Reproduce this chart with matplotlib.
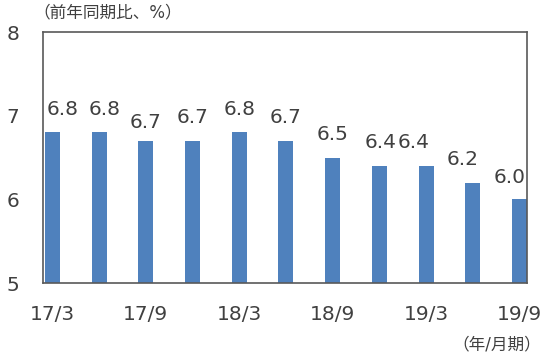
import matplotlib
matplotlib.use("Agg")
import matplotlib.pyplot as plt
from matplotlib.transforms import offset_copy

plt.rcParams['font.family'] = ['DejaVu Sans', 'Noto Sans CJK JP']

periods = ["17/3", "17/6", "17/9", "17/12", "18/3", "18/6", "18/9", "18/12", "19/3", "19/6", "19/9"]
values = [6.8, 6.8, 6.7, 6.7, 6.8, 6.7, 6.5, 6.4, 6.4, 6.2, 6.0]
tick_labels = ["17/3", "17/9", "18/3", "18/9", "19/3", "19/9"]
y_ticks = [5, 6, 7, 8]
y_label = "（前年同期比、%）"
x_unit = "（年/月期）"

# label nudges in pixels (dx, dy) to mimic the reference placement
label_dx = [10.5, 5.5, 0, 0, 0, 0, 0, 1.5, -12, -10.5, -10]
label_dy = [17, 17, 12.5, 17.5, 17, 17.5, 17.5, 18, 18, 18, 16]

text_color = "#404040"
bar_color = "#4F81BD"
spine_color = "#595959"

fig = plt.figure(figsize=(5.45, 3.57), dpi=100)
ax = fig.add_axes([43/545, 1 - 283/357, (527-43)/545, (283-32)/357])

x = list(range(len(values)))
ax.bar(x, values, width=0.32, color=bar_color, bottom=0, zorder=2)
ax.set_ylim(5, 8)
ax.set_xlim(-0.2, 10.16)
ax.set_yticks(y_ticks)
ax.set_yticklabels([str(v) for v in y_ticks])
ax.set_xticks(x[::2])
ax.set_xticklabels(tick_labels)
ax.tick_params(axis='both', length=0, labelsize=14.5, colors=text_color)
ax.tick_params(axis='y', pad=17)
ax.tick_params(axis='x', pad=16)
for s in ax.spines.values():
    s.set_color(spine_color)
    s.set_linewidth(1.2)

for i, v in enumerate(values):
    tr = offset_copy(ax.transData, fig=fig, x=label_dx[i], y=label_dy[i], units='dots')
    ax.text(i, v, f"{v:.1f}", transform=tr, ha='center', va='baseline',
            fontsize=14.5, color=text_color)

fig.text(33/545, 1 - 12/357, y_label, ha='left', va='center', fontsize=12, color=text_color)
fig.text(541/545, 1 - 344/357, x_unit, ha='right', va='center', fontsize=12, color=text_color)

fig.savefig("out.png", dpi=100)
